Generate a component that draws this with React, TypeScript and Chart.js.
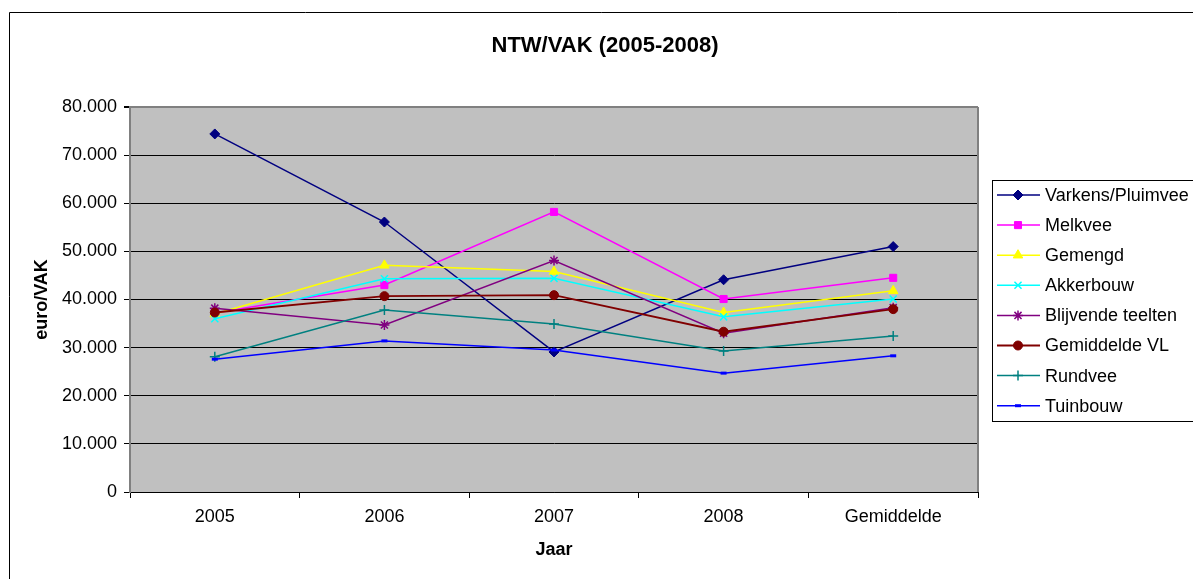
import React, { useEffect, useRef } from "react";
import { Chart, registerables } from "chart.js";
import { drawPoint } from "chart.js/helpers";

Chart.register(...registerables);

const categories = ["2005", "2006", "2007", "2008", "Gemiddelde"];

const varkensPluimvee = [74400, 56100, 29100, 44100, 51000];
const melkvee = [37200, 43000, 58200, 40100, 44500];
const gemengd = [37000, 47100, 45800, 37300, 41800];
const akkerbouw = [36000, 44300, 44400, 36400, 40100];
const blijvendeTeelten = [38200, 34700, 48100, 33000, 38300];
const gemiddeldeVL = [37300, 40700, 40900, 33300, 38000];
const rundvee = [28100, 37800, 34900, 29300, 32400];
const tuinbouw = [27600, 31400, 29500, 24700, 28300];

const seriesNames = [
  "Varkens/Pluimvee",
  "Melkvee",
  "Gemengd",
  "Akkerbouw",
  "Blijvende teelten",
  "Gemiddelde VL",
  "Rundvee",
  "Tuinbouw",
];
const seriesValues = [
  varkensPluimvee,
  melkvee,
  gemengd,
  akkerbouw,
  blijvendeTeelten,
  gemiddeldeVL,
  rundvee,
  tuinbouw,
];
const seriesColors = [
  "#000080",
  "#FF00FF",
  "#FFFF00",
  "#00FFFF",
  "#800080",
  "#800000",
  "#008080",
  "#0000FF",
];
const seriesPointStyles = [
  "rectRot",
  "rect",
  "triangle",
  "crossRot",
  "star",
  "circle",
  "cross",
  "line",
];
const seriesPointRadius = [5, 5, 5.5, 5, 5, 4.5, 5, 3];
const seriesPointBorder = [1, 1, 1, 1.5, 1.5, 1, 1.5, 3];
const seriesLineWidth = [1.5, 1.5, 1.5, 1.5, 1.5, 1.8, 1.5, 1.5];

const yTicks = [0, 10000, 20000, 30000, 40000, 50000, 60000, 70000, 80000];

const FONT = "'Liberation Sans', Arial, sans-serif";

const formatTick = (v: number) =>
  v === 0 ? "0" : `${Math.round(v / 1000)}.000`;

export default function App() {
  const canvasRef = useRef<HTMLCanvasElement | null>(null);

  useEffect(() => {
    const canvas = canvasRef.current;
    if (!canvas) return;

    const bgPlugin = {
      id: "excelFrame",
      beforeDraw(chart: any) {
        const { ctx, chartArea } = chart;
        ctx.save();
        ctx.fillStyle = "#FFFFFF";
        ctx.fillRect(0, 0, chart.width, chart.height);
        ctx.strokeStyle = "#000000";
        ctx.lineWidth = 1;
        ctx.beginPath();
        ctx.moveTo(9.5, chart.height + 5);
        ctx.lineTo(9.5, 12.5);
        ctx.lineTo(chart.width + 5, 12.5);
        ctx.stroke();
        ctx.fillStyle = "#C0C0C0";
        ctx.fillRect(
          chartArea.left,
          chartArea.top,
          chartArea.right - chartArea.left,
          chartArea.bottom - chartArea.top
        );
        ctx.fillStyle = "#000000";
        ctx.font = `bold 22px ${FONT}`;
        ctx.textAlign = "center";
        ctx.textBaseline = "middle";
        ctx.fillText("NTW/VAK (2005-2008)", 605, 46);
        ctx.restore();
      },
      beforeDatasetsDraw(chart: any) {
        const { ctx, chartArea } = chart;
        ctx.save();
        ctx.strokeStyle = "#808080";
        ctx.lineWidth = 2;
        ctx.beginPath();
        ctx.moveTo(chartArea.right, chartArea.bottom);
        ctx.lineTo(chartArea.right, chartArea.top);
        ctx.stroke();
        ctx.restore();
      },
      afterDraw(chart: any) {
        const { ctx } = chart;
        ctx.save();
        const boxX = 992.5;
        const boxY = 180.5;
        ctx.fillStyle = "#FFFFFF";
        ctx.fillRect(boxX, boxY, 260, 241);
        ctx.strokeStyle = "#000000";
        ctx.lineWidth = 1;
        ctx.strokeRect(boxX, boxY, 260, 241);
        ctx.font = `18px ${FONT}`;
        ctx.textAlign = "left";
        ctx.textBaseline = "middle";
        chart.data.datasets.forEach((ds: any, i: number) => {
          const y = 195 + i * 30.1;
          ctx.strokeStyle = ds.borderColor;
          ctx.lineWidth = ds.borderWidth;
          ctx.beginPath();
          ctx.moveTo(997, y);
          ctx.lineTo(1040, y);
          ctx.stroke();
          ctx.fillStyle = ds.pointBackgroundColor;
          ctx.strokeStyle = ds.pointBorderColor;
          ctx.lineWidth = ds.pointBorderWidth;
          drawPoint(
            ctx,
            {
              pointStyle: ds.pointStyle,
              rotation: 0,
              radius: ds.pointRadius,
              borderWidth: ds.pointBorderWidth,
            },
            1018,
            y
          );
          ctx.fillStyle = "#000000";
          ctx.fillText(ds.label, 1045, y + 1);
        });
        ctx.restore();
      },
    };

    const chart = new Chart(canvas, {
      type: "line",
      data: {
        labels: categories,
        datasets: seriesNames.map((name, i) => ({
          label: name,
          data: seriesValues[i],
          borderColor: seriesColors[i],
          backgroundColor: seriesColors[i],
          pointBackgroundColor: seriesColors[i],
          pointBorderColor: seriesColors[i],
          pointStyle: seriesPointStyles[i],
          pointRadius: seriesPointRadius[i],
          pointBorderWidth: seriesPointBorder[i],
          borderWidth: seriesLineWidth[i],
          tension: 0,
          fill: false,
          order: -i,
        })),
      },
      options: {
        responsive: false,
        animation: false,
        devicePixelRatio: 1,
        layout: { padding: { top: 107, right: 215, left: 0, bottom: 0 } },
        plugins: {
          legend: { display: false },
          title: { display: false },
          tooltip: { enabled: false },
        },
        scales: {
          x: {
            type: "category",
            offset: true,
            afterFit(scale: any) {
              scale.height = 87;
            },
            grid: {
              offset: true,
              drawOnChartArea: false,
              drawTicks: true,
              tickLength: 6,
              tickColor: "#000000",
            },
            border: { display: true, color: "#000000", width: 1 },
            ticks: {
              color: "#000000",
              font: { family: FONT, size: 18 },
              padding: 8,
              maxRotation: 0,
            },
            title: {
              display: true,
              text: "Jaar",
              color: "#000000",
              font: { family: FONT, size: 18, weight: "bold" },
              padding: { top: 0, bottom: 18 },
            },
          },
          y: {
            min: 0,
            max: 80000,
            afterFit(scale: any) {
              scale.width = 130;
            },
            afterBuildTicks(scale: any) {
              scale.ticks = yTicks.map((v) => ({ value: v }));
            },
            grid: {
              color: (ctx: any) =>
                ctx.tick && ctx.tick.value === 80000 ? "#808080" : "#000000",
              lineWidth: (ctx: any) =>
                ctx.tick && ctx.tick.value === 80000 ? 2 : 1,
              drawTicks: true,
              tickLength: 6,
              tickColor: "#000000",
            },
            border: { display: true, color: "#808080", width: 2 },
            ticks: {
              color: "#000000",
              font: { family: FONT, size: 18 },
              padding: 7,
              callback: (v: any) => formatTick(Number(v)),
            },
            title: {
              display: true,
              text: "euro/VAK",
              color: "#000000",
              font: { family: FONT, size: 18, weight: "bold" },
              padding: { top: 31, bottom: 0 },
            },
          },
        },
      },
      plugins: [bgPlugin],
    } as any);

    return () => chart.destroy();
  }, []);

  return (
    <div
      style={{
        position: "fixed",
        left: 0,
        top: 0,
        width: 1193,
        height: 579,
        background: "#fff",
      }}
    >
      <canvas ref={canvasRef} width={1193} height={579} />
    </div>
  );
}
